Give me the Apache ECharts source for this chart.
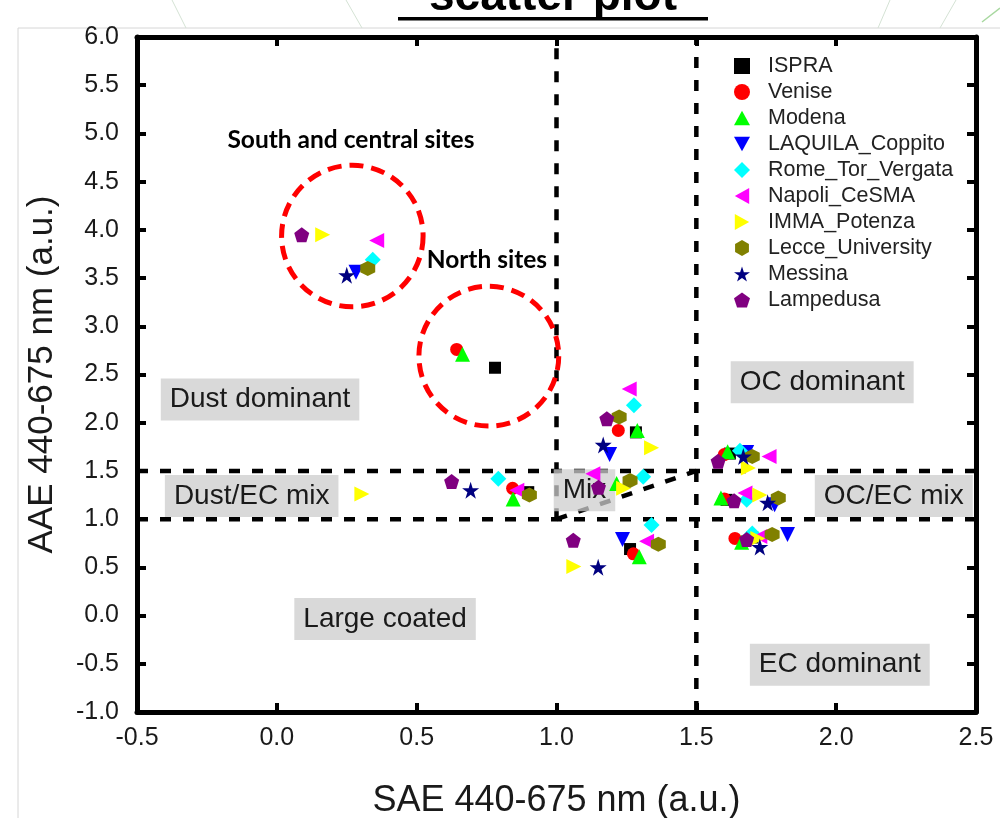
<!DOCTYPE html>
<html>
<head>
<meta charset="utf-8">
<script src="https://cdn.jsdelivr.net/npm/echarts@6/dist/echarts.min.js"></script>
<style>
html,body{margin:0;padding:0;background:#fff;}
#chart{width:1000px;height:818px;}
</style>
</head>
<body>
<div id="chart"></div>
<script>
// ---------- DATA ----------
const stations = ['ISPRA','Venise','Modena','LAQUILA_Coppito','Rome_Tor_Vergata','Napoli_CeSMA','IMMA_Potenza','Lecce_University','Messina','Lampedusa'];

const ISPRA      = [[0.78,2.57],[1.284,1.90],[0.899,1.28],[1.263,0.69],[1.62,1.68],[1.608,1.20],[1.70,0.81]];
const Venise     = [[0.643,2.76],[1.221,1.92],[0.843,1.32],[1.275,0.64],[1.60,1.67],[1.60,1.21],[1.638,0.80]];
const Modena     = [[0.664,2.71],[1.289,1.92],[0.845,1.21],[1.215,1.37],[1.296,0.61],[1.612,1.70],[1.588,1.22],[1.662,0.76]];
const LAQUILA    = [[0.283,3.56],[1.19,1.67],[1.236,0.79],[1.68,1.69],[1.78,1.15],[1.826,0.84]];
const Rome       = [[0.343,3.69],[1.277,2.18],[0.792,1.42],[1.31,1.44],[1.34,0.94],[1.656,1.71],[1.68,1.20],[1.70,0.85]];
const Napoli     = [[0.357,3.89],[1.26,2.35],[0.858,1.30],[1.13,1.47],[1.322,0.77],[1.76,1.65],[1.674,1.27],[1.727,0.82]];
const IMMA       = [[0.164,3.95],[1.34,1.74],[0.304,1.26],[1.24,1.32],[1.062,0.51],[1.686,1.53],[1.727,1.25],[1.72,0.80]];
const Lecce      = [[0.325,3.60],[1.224,2.06],[0.903,1.25],[1.263,1.40],[1.364,0.74],[1.70,1.65],[1.793,1.22],[1.771,0.84]];
const Messina    = [[0.25,3.53],[1.167,1.77],[0.693,1.30],[1.149,0.50],[1.668,1.65],[1.755,1.17],[1.727,0.71]];
const Lampedusa  = [[0.089,3.95],[1.18,2.04],[0.625,1.39],[1.15,1.33],[1.06,0.78],[1.578,1.60],[1.635,1.19],[1.68,0.79]];
const stationData = [ISPRA,Venise,Modena,LAQUILA,Rome,Napoli,IMMA,Lecce,Messina,Lampedusa];

// axis ranges / ticks
const xMin = -0.5, xMax = 2.5, xStep = 0.5;
const yMin = -1.0, yMax = 6.0, yStep = 0.5;
const xTitle = 'SAE 440-675 nm (a.u.)';
const yTitle = 'AAE 440-675 nm (a.u.)';

// region boundaries [x1,y1,x2,y2]
const boundaries = [[1.0,1.0,1.0,6.0],[1.5,-1.0,1.5,6.0],[-0.5,1.0,2.5,1.0],[-0.5,1.5,2.5,1.5],[1.0,1.0,1.5,1.5]];
// region labels [x,y,text]
const regionLabels = [[-0.06,2.24,'Dust dominant'],[1.95,2.42,'OC dominant'],[-0.09,1.24,'Dust/EC mix'],[1.10,1.30,'Mix'],[2.206,1.24,'OC/EC mix'],[0.387,-0.035,'Large coated'],[2.013,-0.51,'EC dominant']];
// site circles [cx,cy,radius(x units)] and their captions
const siteCircles = [[0.270,3.936,0.253],[0.758,2.69,0.25]];
const siteCaptions = [[0.265,4.93,'South and central sites'],[0.751,3.69,'North sites']];

// ---------- STYLE ----------
const colors = ['#000000','#ff0000','#00ff00','#0000ff','#00ffff','#ff00ff','#ffff00','#808000','#000080','#800080'];
const hexagon = 'path://M50,0 L93.3,25 L93.3,75 L50,100 L6.7,75 L6.7,25 Z';
const star = 'path://M50,0 L61.8,36.2 L100,36.2 L69.1,58.8 L80.9,95.1 L50,72.7 L19.1,95.1 L30.9,58.8 L0,36.2 L38.2,36.2 Z';
const pentagon = 'path://M50,0 L97.6,34.5 L79.4,90.5 L20.6,90.5 L2.4,34.5 Z';
const triUp = 'path://M50,0 L100,90 L0,90 Z';
const triDown = 'path://M0,0 L100,0 L50,90 Z';
const triLeft = 'path://M90,0 L90,100 L0,50 Z';
const triRight = 'path://M0,0 L90,50 L0,100 Z';
const symbols = ['rect','circle',triUp,triDown,'diamond',triLeft,triRight,hexagon,star,pentagon];
const sizes = [12,13,15,15,16,15,15,15,17,15];

const FONT = "'Liberation Sans', Arial, sans-serif";
const chart = echarts.init(document.getElementById('chart'));

const fmt = v => v.toFixed(1);

const series = stations.map((name,i)=>({
  name, type:'scatter', data: stationData[i],
  symbol: symbols[i], symbolSize: sizes[i],
  itemStyle:{color: colors[i], opacity:1}, z: 5
}));

series.push({
  type:'custom', name:'boundaries', silent:true, z:3,
  data: boundaries,
  renderItem:(p,api)=>{
    const a = api.coord([api.value(0),api.value(1)]);
    const b = api.coord([api.value(2),api.value(3)]);
    return {type:'line', shape:{x1:a[0],y1:a[1],x2:b[0],y2:b[1]},
      style:{stroke:'#000',lineWidth:4.5,lineDash:[11,12]}};
  }
});
series.push({
  type:'custom', name:'circles', silent:true, z:3,
  data: siteCircles,
  renderItem:(p,api)=>{
    const c = api.coord([api.value(0),api.value(1)]);
    const r = api.size([api.value(2),0])[0];
    return {type:'circle', shape:{cx:c[0],cy:c[1],r},
      style:{fill:'none',stroke:'#ff0000',lineWidth:5,lineDash:[14,8]}};
  }
});
series.push({
  type:'custom', name:'regionLabels', silent:true, z:4,
  data: regionLabels,
  renderItem:(p,api)=>{
    const c = api.coord([api.value(0),api.value(1)]);
    const t = regionLabels[p.dataIndex][2];
    const isMix = t==='Mix';
    return {type:'text', x:c[0], y:c[1], z2:10,
      style:{text:t, font:"28px "+FONT, fill:'#1a1a1a', align:'center', verticalAlign:'middle',
        backgroundColor: isMix ? 'rgba(205,205,205,0.75)' : '#d9d9d9', padding:[7,9,7,9]}};
  }
});
series.push({
  type:'custom', name:'captions', silent:true, z:4,
  data: siteCaptions,
  renderItem:(p,api)=>{
    const c = api.coord([api.value(0),api.value(1)]);
    return {type:'text', x:c[0], y:c[1],
      style:{text: siteCaptions[p.dataIndex][2], font:"bold 24.5px Lato, 'Open Sans', sans-serif", fill:'#000', align:'center', verticalAlign:'middle'}};
  }
});

const baseAxis = {
  type:'value', splitLine:{show:false},
  axisLine:{show:true, onZero:false, lineStyle:{color:'#000', width:5}},
  axisTick:{show:true, inside:true, length:9, lineStyle:{color:'#000', width:4}}
};

chart.setOption({
  animation:false,
  backgroundColor:'#fff',
  grid:{left:137, right:24, top:37, bottom:106, containLabel:false, outerBoundsMode:'none'},
  legend:{
    data: stations.map((n,i)=>({name:n, icon:symbols[i]})), orient:'vertical', left:729, top:50,
    itemWidth:16, itemHeight:16, itemGap:4,
    textStyle:{fontFamily:FONT, fontSize:21.5, color:'#222', padding:[0,0,0,13]}
  },
  xAxis:[
    Object.assign({}, baseAxis, {min:xMin, max:xMax, interval:xStep, position:'bottom',
      axisLabel:{formatter:fmt, fontFamily:FONT, fontSize:25, color:'#1a1a1a', margin:14},
      name:xTitle, nameLocation:'middle', nameGap:71,
      nameTextStyle:{fontFamily:FONT, fontSize:36, color:'#1a1a1a'}}),
    Object.assign({}, baseAxis, {min:xMin, max:xMax, interval:xStep, position:'top', axisLabel:{show:false}})
  ],
  yAxis:[
    Object.assign({}, baseAxis, {min:yMin, max:yMax, interval:yStep, position:'left',
      axisLabel:{formatter:fmt, fontFamily:FONT, fontSize:25, color:'#1a1a1a', margin:18},
      name:yTitle, nameLocation:'middle', nameGap:77,
      nameTextStyle:{fontFamily:FONT, fontSize:35, color:'#1a1a1a'}}),
    Object.assign({}, baseAxis, {min:yMin, max:yMax, interval:yStep, position:'right', axisLabel:{show:false}})
  ],
  graphic:[
    {type:'line', shape:{x1:18,y1:28,x2:1000,y2:28}, style:{stroke:'#d6d6d6', lineWidth:1}, z:-1},
    {type:'line', shape:{x1:18,y1:28,x2:18,y2:818}, style:{stroke:'#d6d6d6', lineWidth:1}, z:-1},
    {type:'line', shape:{x1:172,y1:0,x2:186,y2:28}, style:{stroke:'#d4e2d4', lineWidth:1}, z:-1},
    {type:'line', shape:{x1:346,y1:0,x2:362,y2:28}, style:{stroke:'#d4e2d4', lineWidth:1}, z:-1},
    {type:'line', shape:{x1:878,y1:28,x2:890,y2:0}, style:{stroke:'#d4e2d4', lineWidth:1}, z:-1},
    {type:'line', shape:{x1:940,y1:28,x2:956,y2:0}, style:{stroke:'#d4e2d4', lineWidth:1}, z:-1},
    {type:'line', shape:{x1:982,y1:22,x2:1000,y2:8}, style:{stroke:'#a8d8a0', lineWidth:1.5}, z:-1},
    {type:'text', x:553, y:20, z:10, style:{text:'scatter plot', font:"bold 46px "+FONT, fill:'#000', align:'center', verticalAlign:'bottom'}},
    {type:'rect', shape:{x:398,y:17,width:310,height:3.5}, style:{fill:'#000'}, z:10}
  ],
  series
});
</script>
</body>
</html>
